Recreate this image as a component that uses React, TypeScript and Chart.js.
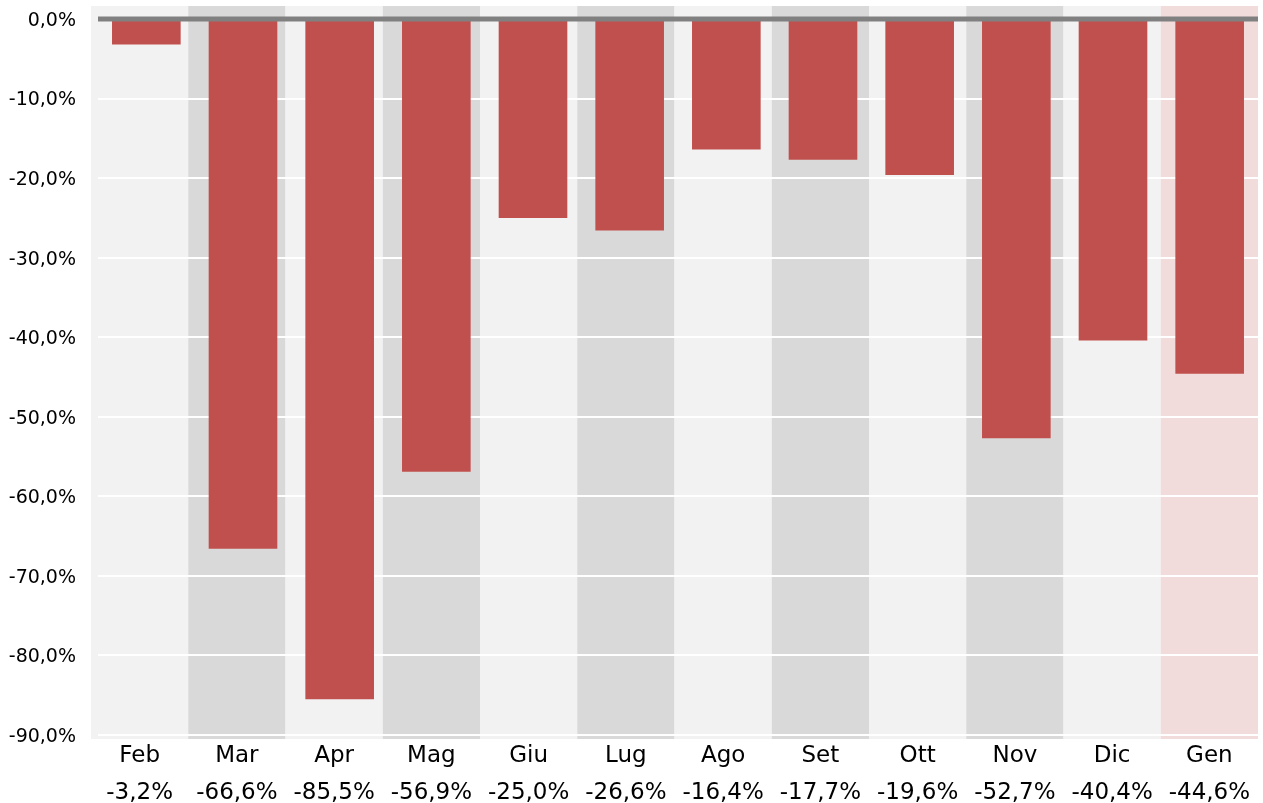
import React, { useEffect, useRef } from "react";
import { Chart, registerables } from "chart.js";

Chart.register(...registerables);

const months = ["Feb", "Mar", "Apr", "Mag", "Giu", "Lug", "Ago", "Set", "Ott", "Nov", "Dic", "Gen"];
const values = [-3.2, -66.6, -85.5, -56.9, -25.0, -26.6, -16.4, -17.7, -19.6, -52.7, -40.4, -44.6];
const yTicks = [0, -10, -20, -30, -40, -50, -60, -70, -80, -90];
const bandColors = ["#f2f2f2", "#d9d9d9", "#f2f2f2", "#d9d9d9", "#f2f2f2", "#d9d9d9", "#f2f2f2", "#d9d9d9", "#f2f2f2", "#d9d9d9", "#f2f2f2", "#f2dcdb"];

const fmt = (v: number) => v.toFixed(1).replace(".", ",") + "%";

// The category-label axis (and background bands) start slightly left of the plot/bars axis
const labelAxisShift = 7;

const shiftPlugin = {
  id: "shiftLabelAxis",
  afterLayout(chart: any) {
    const s = chart.scales.x;
    s.left = chart.chartArea.left - labelAxisShift;
    s.width = s.right - s.left;
    s.configure();
  },
};

const bandsPlugin = {
  id: "bands",
  beforeDraw(chart: any) {
    const { ctx, chartArea, scales } = chart;
    const s = scales.x;
    const w = (s.right - s.left) / months.length;
    ctx.save();
    months.forEach((_, i) => {
      const cx = s.getPixelForValue(i);
      ctx.fillStyle = bandColors[i];
      ctx.fillRect(cx - w / 2, chartArea.top - 13, w, chartArea.bottom - chartArea.top + 17);
    });
    ctx.restore();
  },
};

const zeroLinePlugin = {
  id: "zeroLine",
  afterDatasetsDraw(chart: any) {
    const { ctx, chartArea, scales } = chart;
    const y = scales.y.getPixelForValue(0);
    ctx.save();
    ctx.strokeStyle = "#808080";
    ctx.lineWidth = 5;
    ctx.beginPath();
    ctx.moveTo(chartArea.left, y);
    ctx.lineTo(chartArea.right, y);
    ctx.stroke();
    ctx.restore();
  },
};

export default function App() {
  const ref = useRef<HTMLCanvasElement>(null);
  useEffect(() => {
    const chart = new Chart(ref.current!, {
      type: "bar",
      data: {
        labels: months.map((m, i) => [m, fmt(values[i])]),
        datasets: [
          {
            data: values,
            xAxisID: "xb",
            backgroundColor: "#c0504d",
            barPercentage: 0.71,
            categoryPercentage: 1,
          },
        ],
      },
      plugins: [shiftPlugin, bandsPlugin, zeroLinePlugin],
      options: {
        animation: false,
        responsive: false,
        layout: { padding: { top: 19, right: 5, left: 0, bottom: 0 } },
        plugins: { legend: { display: false }, tooltip: { enabled: false } },
        scales: {
          xb: {
            type: "category",
            position: "bottom",
            display: false,
            offset: true,
          },
          x: {
            type: "category",
            position: "bottom",
            offset: true,
            grid: { display: false, drawTicks: false },
            border: { display: false },
            ticks: {
              color: "#000",
              font: { family: "DejaVu Sans", size: 23, lineHeight: 1.587 },
              padding: 3,
              maxRotation: 0,
              autoSkip: false,
            },
            afterFit(scale: any) {
              scale.height = 68;
              scale.paddingLeft = 0;
              scale.paddingRight = 0;
            },
          },
          y: {
            min: -90,
            max: 0,
            afterBuildTicks(scale: any) {
              scale.ticks = yTicks.map((v) => ({ value: v }));
            },
            grid: {
              drawTicks: false,
              lineWidth: 2,
              color: (c: any) => (c.tick && c.tick.value === 0 ? "rgba(0,0,0,0)" : "#ffffff"),
            },
            border: { display: false },
            ticks: {
              color: "#000",
              font: { family: "DejaVu Sans", size: 19 },
              padding: 22,
              labelOffset: 2,
              callback: (v: any) => fmt(Number(v)),
            },
            afterFit(scale: any) {
              scale.width = 98;
              scale.paddingTop = 0;
              scale.paddingBottom = 0;
            },
          },
        },
      },
    });
    return () => chart.destroy();
  }, []);
  return (
    <div style={{ position: "fixed", left: 0, top: 0, width: 1263, height: 803, background: "#fff" }}>
      <canvas ref={ref} width={1263} height={803} />
    </div>
  );
}
